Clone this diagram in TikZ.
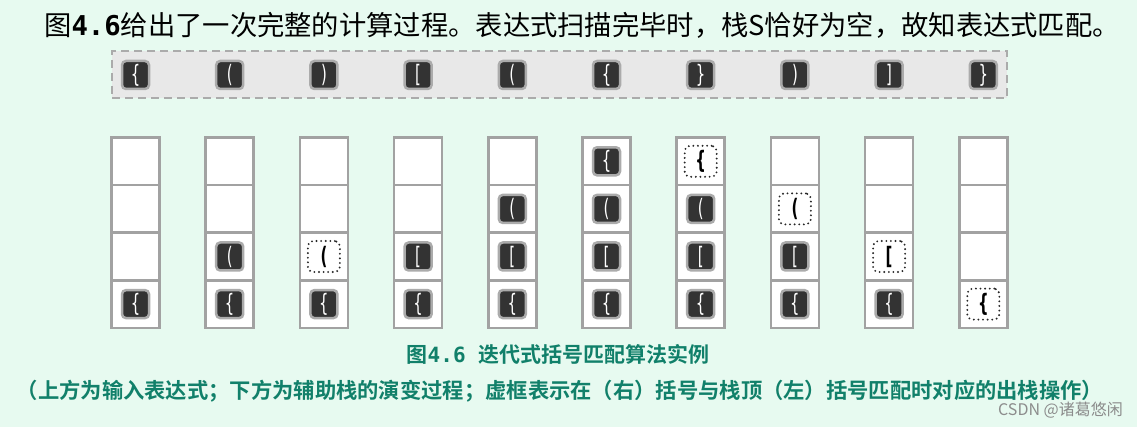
\documentclass[tikz,border=0pt]{standalone}
\usepackage{graphicx}
\usepackage{fontspec}
\setmainfont{Liberation Sans}
\newfontfamily\cjk[BoldFont={Noto Sans CJK SC Bold}]{Noto Sans CJK SC}
\newfontfamily\monob{DejaVu Sans Mono}
\newfontfamily\tokfont{DejaVu Sans}
\definecolor{bgmint}{HTML}{E7FAF0}
\definecolor{tokdark}{HTML}{333333}
\definecolor{halo}{HTML}{ABABAB}
\definecolor{cellgray}{HTML}{A2A2A2}
\definecolor{boxgray}{HTML}{E8E8E8}
\definecolor{dashgray}{HTML}{ABABAB}
\definecolor{capgreen}{HTML}{11806A}
\newcommand\glyphlb{\{}
\newcommand\glyphrb{\}}
\newcommand\glyphlp{(}
\newcommand\glyphrp{)}
\newcommand\glyphls{[}
\newcommand\glyphrs{]}
\newcommand\tallglyph[1]{\scalebox{0.62}[1]{\csname glyph#1\endcsname}}
\begin{document}
\begin{tikzpicture}[x=1pt,y=-1pt,
  tokbox/.style={minimum width=27pt, minimum height=28pt, inner sep=0pt, rounded corners=4pt,
    fill=tokdark, draw=halo, line width=2.5pt, text=white, font=\tokfont\fontsize{24}{24}\selectfont},
  popbox/.style={minimum width=32pt, minimum height=31pt, inner sep=0pt, rounded corners=5pt,
    draw=black!85, line width=2.1pt, dash pattern=on 0pt off 4.6pt, line cap=round, text=black,
    font=\tokfont\bfseries\fontsize{24}{24}\selectfont},
  cell/.style={minimum width=48pt, minimum height=47.6pt, inner sep=0pt, fill=white, draw=cellgray, line width=2.6pt},
  captext/.style={text=capgreen, inner sep=0pt},
]
\fill[bgmint] (0,0) rectangle (1137,427);
\useasboundingbox (0,0) rectangle (1137,427);

% title
\node[anchor=west, inner sep=0pt] (title) at (44,25)
  {\fontsize{27.3}{30}\selectfont\cjk 图{\monob\bfseries 4.6}给出了一次完整的计算过程。表达式扫描完毕时，栈S恰好为空，故知表达式匹配。};

% input expression
\node[draw=dashgray, fill=boxgray, line width=2pt, dash pattern=on 8pt off 5pt,
  minimum width=895pt, minimum height=47pt, inner sep=0pt] (input) at (559.5,74.5) {};
\foreach \t [count=\i] in {lb,lp,rp,ls,lp,lb,rb,rp,rs,rb}
  \node[tokbox] (in\i) at ({135.5+94.2*(\i-1)},75) {\tallglyph{\t}};

% stacks
\foreach \i in {1,...,10}
  \foreach \r in {1,...,4}
    \node[cell] (c\i-\r) at ({135.5+94.2*(\i-1)},{137.5+47.6*(\r-0.5)}) {};

\foreach \c/\r/\t/\s in {
  1/4/lb/tokbox,
  2/4/lb/tokbox, 2/3/lp/tokbox,
  3/4/lb/tokbox, 3/3/lp/popbox,
  4/4/lb/tokbox, 4/3/ls/tokbox,
  5/4/lb/tokbox, 5/3/ls/tokbox, 5/2/lp/tokbox,
  6/4/lb/tokbox, 6/3/ls/tokbox, 6/2/lp/tokbox, 6/1/lb/tokbox,
  7/4/lb/tokbox, 7/3/ls/tokbox, 7/2/lp/tokbox, 7/1/lb/popbox,
  8/4/lb/tokbox, 8/3/ls/tokbox, 8/2/lp/popbox,
  9/4/lb/tokbox, 9/3/ls/popbox,
  10/4/lb/popbox}
  \node[\s] (s\c-\r) at (c\c-\r.center) {\tallglyph{\t}};

% captions
\node[captext] (cap1) at (558,354)
  {\fontsize{21}{24}\selectfont\cjk\bfseries 图{\monob 4.6}\hspace{0.6em}迭代式括号匹配算法实例};
\node[captext] (cap2) at (560,391)
  {\fontsize{21.3}{24}\selectfont\cjk\bfseries （上方为输入表达式；下方为辅助栈的演变过程；虚框表示在（右）括号与栈顶（左）括号匹配时对应的出栈操作）};
\node[anchor=east, inner sep=0pt, text=black!45] (wm) at (1123,410)
  {\fontsize{16}{18}\selectfont\cjk CSDN @诸葛悠闲};
\end{tikzpicture}
\end{document}
